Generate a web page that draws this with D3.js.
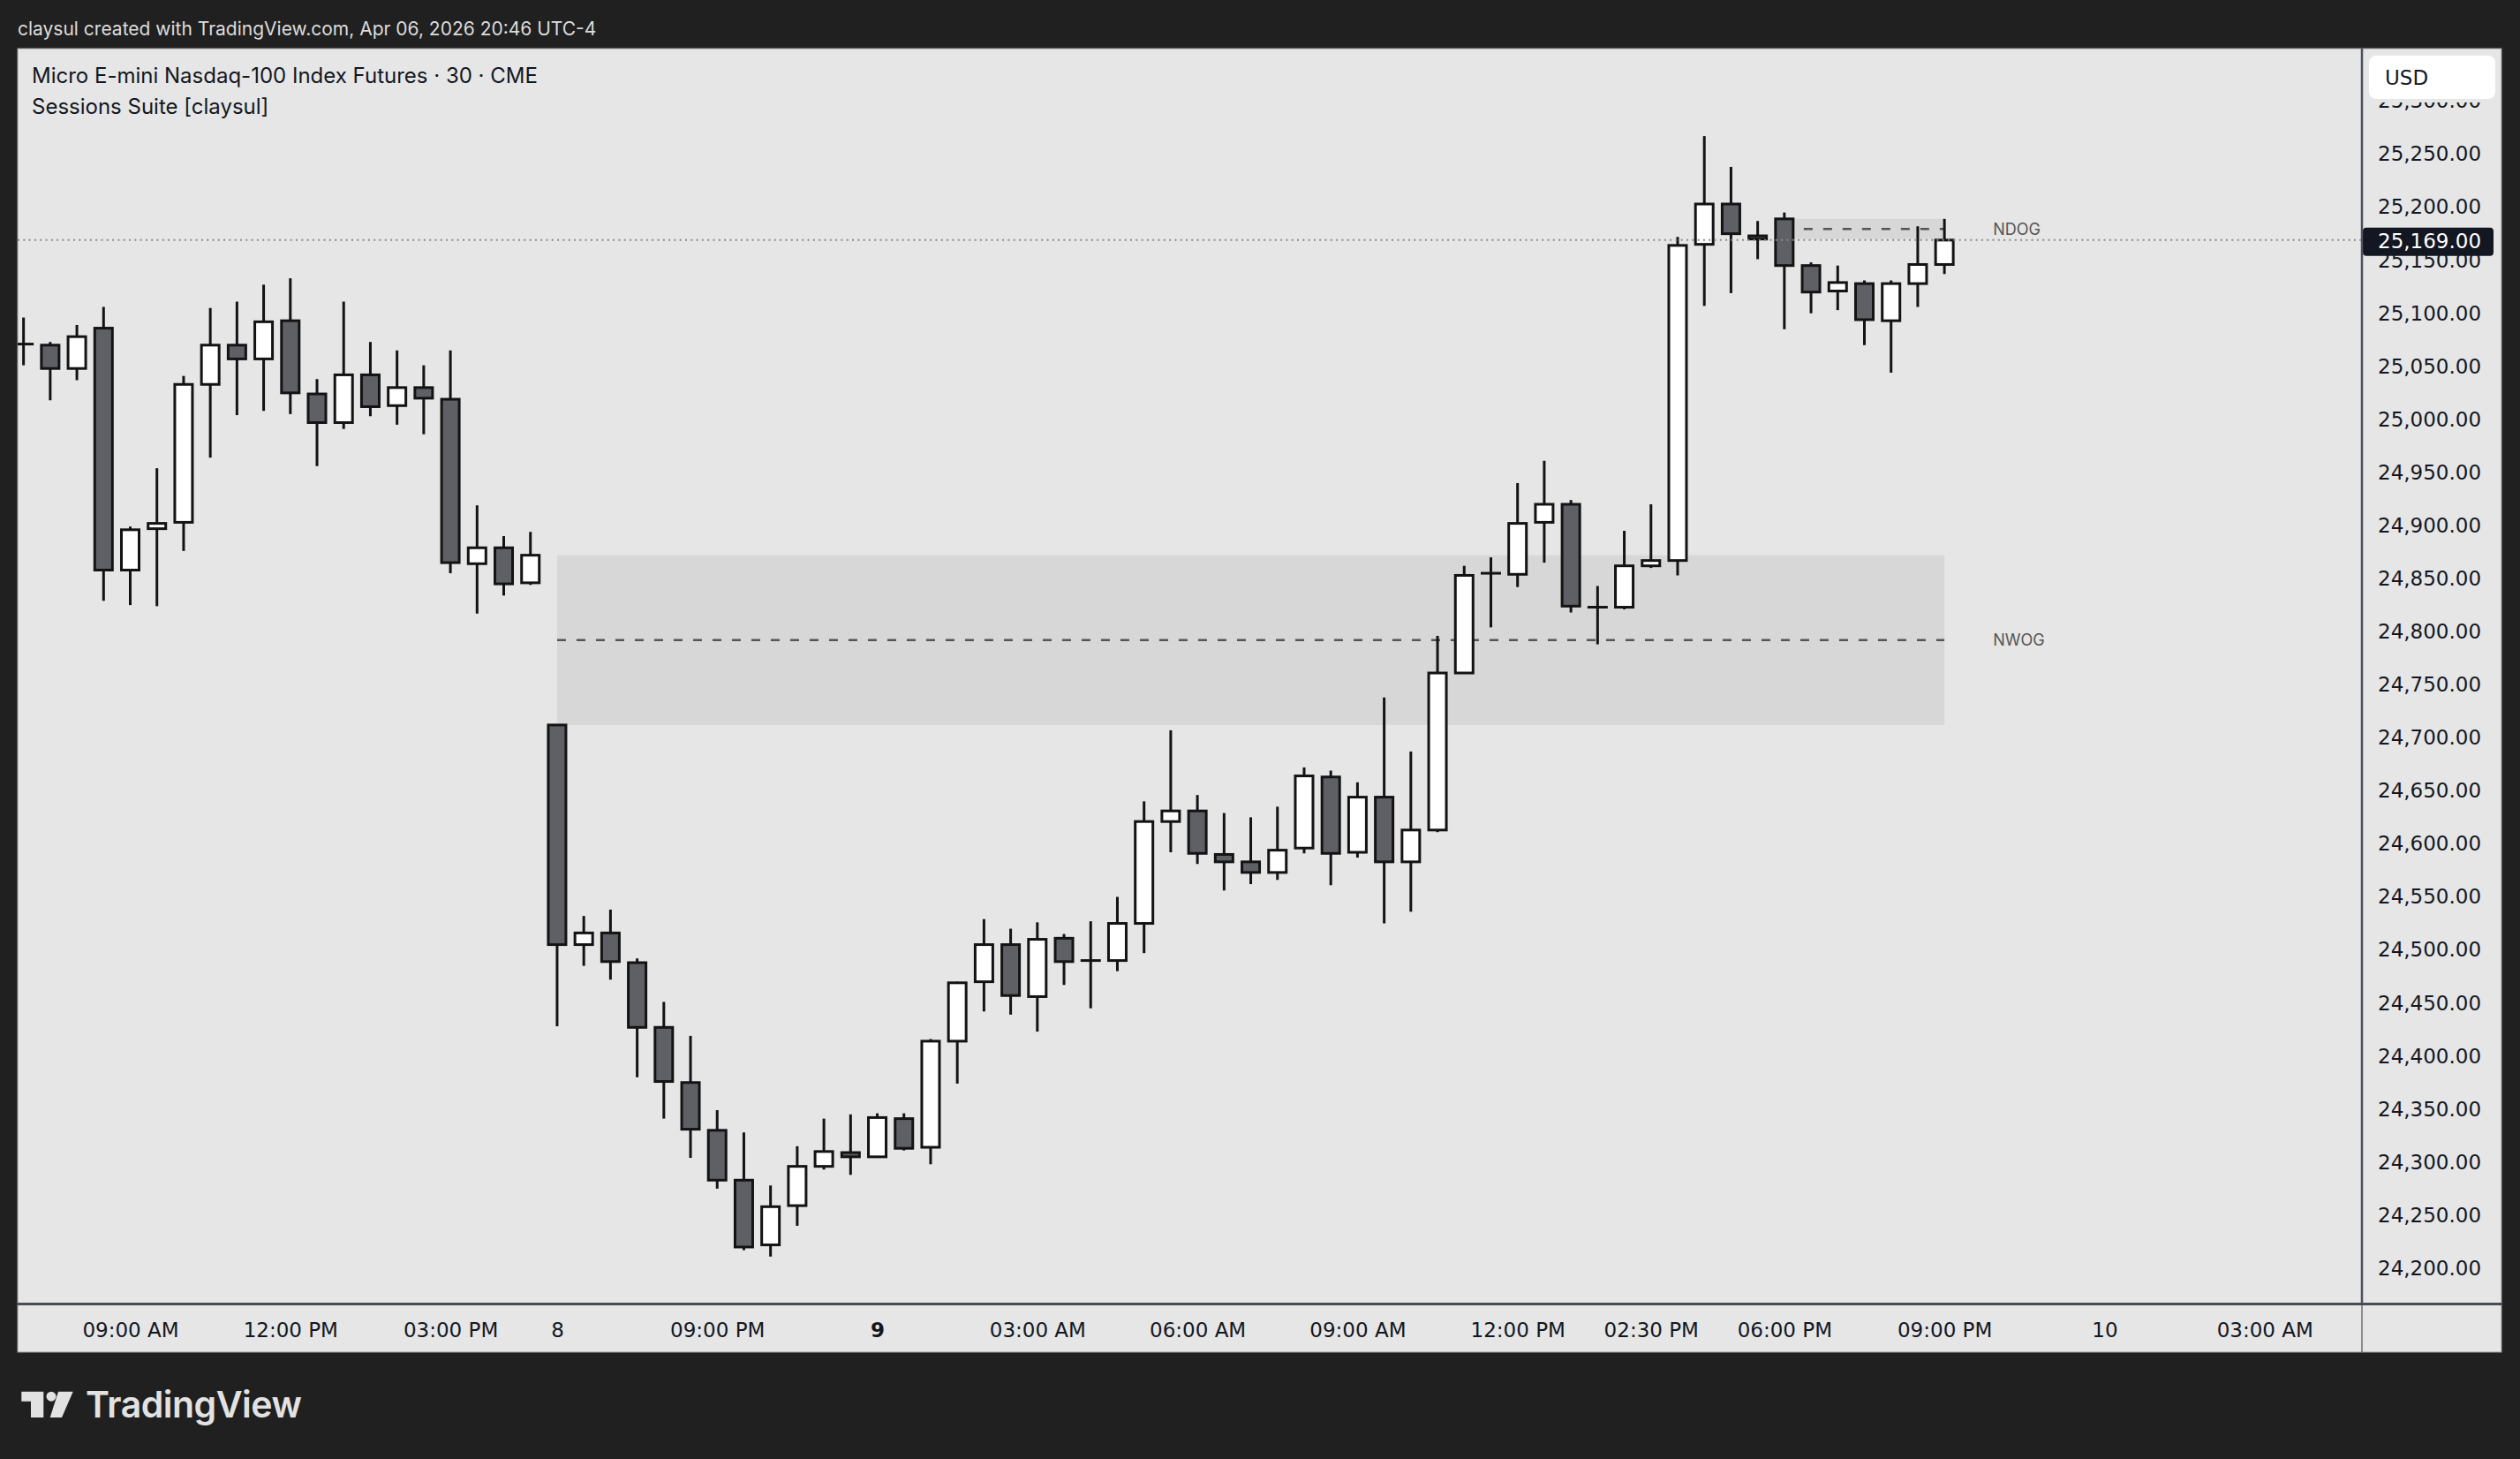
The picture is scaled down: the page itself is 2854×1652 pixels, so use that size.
<!DOCTYPE html>
<html>
<head>
<meta charset="utf-8">
<script src="https://cdn.jsdelivr.net/npm/d3@7"></script>
<style>
html, body { margin: 0; padding: 0; background: #202020; }
svg { display: block; }
</style>
</head>
<body>
<svg id="chart"></svg>
<script>
// Donnees du graphique (barres de 30 minutes)
const barTimes = [
    "07 07:00", "07 07:30", "07 08:00", "07 08:30", "07 09:00", "07 09:30", "07 10:00", "07 10:30",
    "07 11:00", "07 11:30", "07 12:00", "07 12:30", "07 13:00", "07 13:30", "07 14:00", "07 14:30",
    "07 15:00", "07 15:30", "07 16:00", "07 16:30",
    "07 18:00", "07 18:30", "07 19:00", "07 19:30", "07 20:00", "07 20:30", "07 21:00", "07 21:30",
    "07 22:00", "07 22:30", "07 23:00", "07 23:30",
    "09 00:00", "09 00:30", "09 01:00", "09 01:30", "09 02:00", "09 02:30", "09 03:00", "09 03:30",
    "09 04:00", "09 04:30", "09 05:00", "09 05:30", "09 06:00", "09 06:30", "09 07:00", "09 07:30",
    "09 08:00", "09 08:30", "09 09:00", "09 09:30", "09 10:00", "09 10:30", "09 11:00", "09 11:30",
    "09 12:00", "09 12:30", "09 13:00", "09 13:30", "09 14:00", "09 14:30", "09 15:00", "09 15:30",
    "09 16:00", "09 16:30",
    "09 18:00", "09 18:30", "09 19:00", "09 19:30", "09 20:00", "09 20:30", "09 21:00"
];

const opens = [
    25071, 25070, 25048, 25086, 24858, 24897, 24903, 25033, 25070, 25057, 25093, 25024, 24997, 25042, 25013, 25030,
    25019, 24864, 24879, 24846,
    24712, 24505, 24516, 24488, 24427, 24375, 24330, 24283, 24222, 24259, 24296, 24309,
    24305, 24341, 24314, 24414, 24470, 24505, 24456, 24511, 24490, 24490, 24525, 24621, 24631, 24590, 24583, 24573,
    24596, 24663, 24592, 24644, 24583, 24613, 24761, 24855, 24854, 24903, 24920, 24823, 24823, 24862, 24867, 25165,
    25203, 25173,
    25189, 25145, 25121, 25128, 25093, 25128, 25146
];

const highs = [
    25096, 25073, 25089, 25106, 24899, 24954, 25041, 25105, 25111, 25127, 25133, 25038, 25111, 25073, 25065, 25051,
    25065, 24919, 24890, 24894,
    24712, 24532, 24538, 24492, 24451, 24419, 24349, 24328, 24278, 24315, 24341, 24345,
    24346, 24346, 24416, 24470, 24529, 24520, 24526, 24515, 24527, 24550, 24640, 24707, 24646, 24629, 24625, 24635,
    24672, 24669, 24658, 24738, 24687, 24796, 24862, 24870, 24940, 24961, 24924, 24843, 24895, 24920, 25172, 25267,
    25238, 25187,
    25195, 25148, 25145, 25131, 25131, 25182, 25189
];

const lows = [
    25051, 25018, 25037, 24829, 24825, 24824, 24876, 24964, 25004, 25008, 25005, 24956, 24991, 25003, 24995, 24986,
    24855, 24817, 24834, 24844,
    24428, 24485, 24472, 24380, 24341, 24304, 24275, 24217, 24211, 24240, 24293, 24288,
    24305, 24311, 24298, 24374, 24442, 24439, 24423, 24467, 24445, 24480, 24497, 24592, 24581, 24556, 24562, 24566,
    24591, 24561, 24587, 24525, 24536, 24611, 24761, 24804, 24842, 24865, 24818, 24788, 24821, 24860, 24853, 25107,
    25119, 25151,
    25085, 25100, 25103, 25070, 25044, 25106, 25137
];

const closes = [
    25071, 25048, 25078, 24858, 24896, 24902, 25033, 25070, 25057, 25092, 25025, 24997, 25042, 25012, 25030, 25020,
    24865, 24879, 24845, 24872,
    24505, 24516, 24489, 24427, 24376, 24331, 24283, 24220, 24258, 24296, 24310, 24305,
    24342, 24313, 24414, 24469, 24505, 24457, 24510, 24489, 24490, 24525, 24621, 24631, 24591, 24583, 24573, 24594,
    24664, 24591, 24644, 24583, 24613, 24761, 24853, 24855, 24902, 24920, 24824, 24823, 24862, 24867, 25164, 25203,
    25175, 25170,
    25145, 25120, 25129, 25094, 25128, 25146, 25169
];

const priceTicks = [
    24200, 24250, 24300, 24350, 24400, 24450, 24500, 24550, 24600, 24650, 24700, 24750,
    24800, 24850, 24900, 24950, 25000, 25050, 25100, 25150, 25200, 25250, 25300
];

const timeTickBars = [4, 10, 16, 20, 26, 32, 38, 44, 50, 56, 61, 66, 72, 78, 84];
const timeTickLabels = [
    "09:00 AM", "12:00 PM", "03:00 PM", "8", "09:00 PM", "9", "03:00 AM", "06:00 AM",
    "09:00 AM", "12:00 PM", "02:30 PM", "06:00 PM", "09:00 PM", "10", "03:00 AM"
];
const boldTimeLabels = ["9"];

// Gaps d'ouverture (semaine / jour)
const gapNames = ["NWOG", "NDOG"];
const gapStartBars = [20, 66];
const gapEndBars = [72, 72];
const gapTops = [24872, 25189];
const gapBottoms = [24712, 25170];

const lastPrice = 25169;

// Mise en page
const chartConfig = {
    width: 2854,
    height: 1652,
    panel: { left: 20, top: 55, right: 2833, bottom: 1531 },
    plot: { left: 20, top: 55, right: 2675, bottom: 1476 },
    bodyWidth: 20,
    background: "#e6e6e6",
    ink: "#131722",
    upColor: "#ffffff",
    downColor: "#5f6065",
    candleStroke: "#131313"
};

const uiFont = "Inter, 'Noto Sans', sans-serif";
const scaleFont = "'DejaVu Sans', sans-serif";

const svg = d3.select("#chart")
    .attr("width", chartConfig.width)
    .attr("height", chartConfig.height)
    .attr("viewBox", "0 0 " + chartConfig.width + " " + chartConfig.height);

const xScale = d3.scaleLinear()
    .domain([-0.22, 87.65])
    .range([chartConfig.plot.left, chartConfig.plot.right]);

const yScale = d3.scaleLinear()
    .domain([24166.7, 25349.5])
    .range([chartConfig.plot.bottom, chartConfig.plot.top]);

const bars = barTimes.map(function(time, index) {
    return {
        index: index,
        time: time,
        open: opens[index],
        high: highs[index],
        low: lows[index],
        close: closes[index]
    };
});

renderChart();

function renderChart() {
    drawFrame();
    drawGaps();
    drawCandles();
    drawLastPriceLine();
    drawPriceAxis();
    drawTimeAxis();
    drawHeader();
    drawLogo();
}

// Cadre et fonds
function drawFrame() {
    const panel = chartConfig.panel;
    const plot = chartConfig.plot;

    svg.append("rect")
        .attr("width", chartConfig.width)
        .attr("height", chartConfig.height)
        .attr("fill", "#202020");

    svg.append("rect")
        .attr("x", panel.left)
        .attr("y", panel.top)
        .attr("width", panel.right - panel.left)
        .attr("height", panel.bottom - panel.top)
        .attr("fill", chartConfig.background)
        .attr("stroke", "#9a9a9a")
        .attr("stroke-width", 1);

    const defs = svg.append("defs");

    defs.append("clipPath")
        .attr("id", "plot-clip")
        .append("rect")
        .attr("x", plot.left)
        .attr("y", plot.top)
        .attr("width", plot.right - plot.left)
        .attr("height", plot.bottom - plot.top);

    // les libelles de prix passent sous le bouton USD
    defs.append("clipPath")
        .attr("id", "price-clip")
        .append("rect")
        .attr("x", plot.right)
        .attr("y", 116)
        .attr("width", panel.right - plot.right)
        .attr("height", plot.bottom - 116);
}

// Zones NWOG / NDOG
function drawGaps() {
    const layer = svg.append("g").attr("clip-path", "url(#plot-clip)");

    gapNames.forEach(function(name, index) {
        const x0 = xScale(gapStartBars[index]);
        const x1 = xScale(gapEndBars[index]);
        const mid = (gapTops[index] + gapBottoms[index]) / 2;

        layer.append("rect")
            .attr("x", x0)
            .attr("y", yScale(gapTops[index]))
            .attr("width", x1 - x0)
            .attr("height", yScale(gapBottoms[index]) - yScale(gapTops[index]))
            .attr("fill", "#d7d7d7");

        layer.append("line")
            .attr("x1", x0)
            .attr("x2", x1)
            .attr("y1", yScale(mid))
            .attr("y2", yScale(mid))
            .attr("stroke", "#555555")
            .attr("stroke-width", 2.5)
            .attr("stroke-dasharray", "10 12");

        layer.append("text")
            .attr("x", x1 + 55)
            .attr("y", yScale(mid))
            .attr("dy", "0.35em")
            .attr("font-family", uiFont)
            .attr("font-size", 18)
            .attr("fill", "#555555")
            .text(name);
    });
}

// Bougies
function drawCandles() {
    const layer = svg.append("g").attr("clip-path", "url(#plot-clip)");
    const half = chartConfig.bodyWidth / 2;

    const candle = layer.selectAll(".candle")
        .data(bars)
        .enter()
        .append("g")
        .attr("class", "candle");

    candle.append("line")
        .attr("x1", function(bar) { return xScale(bar.index); })
        .attr("x2", function(bar) { return xScale(bar.index); })
        .attr("y1", function(bar) { return yScale(bar.high); })
        .attr("y2", function(bar) { return yScale(bar.low); })
        .attr("stroke", chartConfig.candleStroke)
        .attr("stroke-width", 3);

    candle.filter(function(bar) { return bar.open !== bar.close; })
        .append("rect")
        .attr("x", function(bar) { return xScale(bar.index) - half; })
        .attr("y", function(bar) { return yScale(Math.max(bar.open, bar.close)); })
        .attr("width", chartConfig.bodyWidth)
        .attr("height", function(bar) {
            return Math.abs(yScale(bar.open) - yScale(bar.close));
        })
        .attr("fill", function(bar) {
            return bar.close > bar.open ? chartConfig.upColor : chartConfig.downColor;
        })
        .attr("stroke", chartConfig.candleStroke)
        .attr("stroke-width", 3);

    candle.filter(function(bar) { return bar.open === bar.close; })
        .append("line")
        .attr("x1", function(bar) { return xScale(bar.index) - half - 1.5; })
        .attr("x2", function(bar) { return xScale(bar.index) + half + 1.5; })
        .attr("y1", function(bar) { return yScale(bar.close); })
        .attr("y2", function(bar) { return yScale(bar.close); })
        .attr("stroke", chartConfig.candleStroke)
        .attr("stroke-width", 3);
}

function drawLastPriceLine() {
    svg.append("line")
        .attr("x1", chartConfig.plot.left)
        .attr("x2", chartConfig.plot.right)
        .attr("y1", yScale(lastPrice))
        .attr("y2", yScale(lastPrice))
        .attr("stroke", "#8a8a8a")
        .attr("stroke-width", 2)
        .attr("stroke-dasharray", "2 4.3");
}

// Echelle de prix
function drawPriceAxis() {
    const plot = chartConfig.plot;
    const formatPrice = d3.format(",.2f");

    const axis = svg.append("g")
        .attr("clip-path", "url(#price-clip)")
        .append("g")
        .attr("transform", "translate(" + plot.right + ",0)")
        .call(d3.axisRight(yScale)
            .tickValues(priceTicks)
            .tickFormat(formatPrice)
            .tickSize(0)
            .tickPadding(18));

    axis.select(".domain").remove();
    axis.selectAll("text")
        .attr("font-family", scaleFont)
        .attr("font-size", 23)
        .attr("fill", chartConfig.ink);

    svg.append("rect")
        .attr("x", 2683)
        .attr("y", 63)
        .attr("width", 143)
        .attr("height", 49)
        .attr("rx", 8)
        .attr("fill", "#ffffff");

    svg.append("text")
        .attr("x", 2701)
        .attr("y", 87.5)
        .attr("dy", "0.36em")
        .attr("font-family", scaleFont)
        .attr("font-size", 23)
        .attr("fill", chartConfig.ink)
        .text("USD");

    svg.append("rect")
        .attr("x", plot.right + 1)
        .attr("y", yScale(lastPrice) - 14)
        .attr("width", 148)
        .attr("height", 32)
        .attr("rx", 4)
        .attr("fill", "#131722");

    svg.append("text")
        .attr("x", plot.right + 18)
        .attr("y", yScale(lastPrice) + 2)
        .attr("dy", "0.32em")
        .attr("font-family", scaleFont)
        .attr("font-size", 23)
        .attr("fill", "#ffffff")
        .text(formatPrice(lastPrice));

    svg.append("line")
        .attr("x1", plot.right)
        .attr("x2", plot.right)
        .attr("y1", plot.top)
        .attr("y2", plot.bottom)
        .attr("stroke", "#4b505b")
        .attr("stroke-width", 2.5);

    svg.append("line")
        .attr("x1", plot.right)
        .attr("x2", plot.right)
        .attr("y1", plot.bottom)
        .attr("y2", chartConfig.panel.bottom)
        .attr("stroke", "#4b505b")
        .attr("stroke-width", 1.2);
}

// Echelle de temps
function drawTimeAxis() {
    const plot = chartConfig.plot;

    const axis = svg.append("g")
        .attr("transform", "translate(0," + (plot.bottom + 1) + ")")
        .call(d3.axisBottom(xScale)
            .tickValues(timeTickBars)
            .tickFormat(function(value, index) {
                return timeTickLabels[index];
            })
            .tickSize(0)
            .tickPadding(21));

    axis.select(".domain").remove();
    axis.selectAll("text")
        .attr("font-family", scaleFont)
        .attr("font-size", 23)
        .attr("fill", chartConfig.ink)
        .attr("font-weight", function(value, index) {
            return boldTimeLabels.indexOf(timeTickLabels[index]) >= 0 ? "bold" : "normal";
        });

    svg.append("line")
        .attr("x1", chartConfig.panel.left)
        .attr("x2", chartConfig.panel.right)
        .attr("y1", plot.bottom + 0.5)
        .attr("y2", plot.bottom + 0.5)
        .attr("stroke", "#474b55")
        .attr("stroke-width", 3);
}

// Textes d'entete
function drawHeader() {
    svg.append("text")
        .attr("x", 20)
        .attr("y", 40)
        .attr("font-family", uiFont)
        .attr("font-size", 21)
        .attr("fill", "#dcdcdc")
        .text("claysul created with TradingView.com, Apr 06, 2026 20:46 UTC-4");

    svg.append("text")
        .attr("x", 36)
        .attr("y", 94)
        .attr("font-family", uiFont)
        .attr("font-size", 24)
        .attr("fill", chartConfig.ink)
        .text("Micro E-mini Nasdaq-100 Index Futures \u00b7 30 \u00b7 CME");

    svg.append("text")
        .attr("x", 36)
        .attr("y", 129)
        .attr("font-family", uiFont)
        .attr("font-size", 24)
        .attr("fill", chartConfig.ink)
        .text("Sessions Suite [claysul]");
}

function drawLogo() {
    const logo = svg.append("g")
        .attr("transform", "translate(24.3,1575.7)")
        .attr("fill", "#e2e2e2");

    logo.append("path")
        .attr("d", "M0,0 H25 V29.3 H10.7 V11 H0 Z");

    logo.append("circle")
        .attr("cx", 33.7)
        .attr("cy", 5.5)
        .attr("r", 5.5);

    logo.append("path")
        .attr("d", "M41.7,0 H58.4 L45.7,29.3 H32.4 Z");

    svg.append("text")
        .attr("x", 97)
        .attr("y", 1605)
        .attr("font-family", uiFont)
        .attr("font-size", 41)
        .attr("font-weight", 600)
        .attr("letter-spacing", -0.5)
        .attr("fill", "#e2e2e2")
        .text("TradingView");
}
</script>
</body>
</html>
